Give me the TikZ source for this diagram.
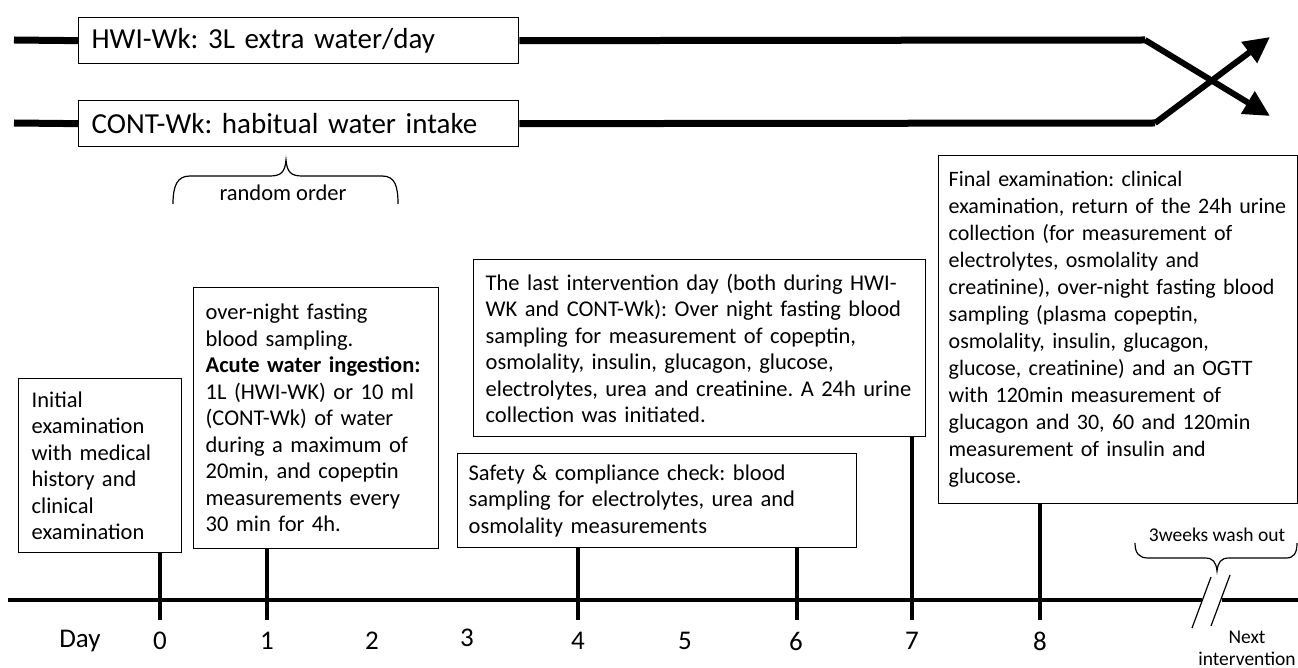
\documentclass[tikz,border=0pt]{standalone}
\usepackage{fontspec}
\setmainfont{Carlito}
\usetikzlibrary{arrows.meta}
\newcommand{\bodyf}{\frenchspacing\fontsize{22.5}{26.5}\selectfont}
\newcommand{\finalf}{\frenchspacing\fontsize{22}{27}\selectfont}
\newcommand{\topf}{\frenchspacing\fontsize{29}{34}\selectfont}
\newcommand{\dayf}{\fontsize{27}{30}\selectfont}
\newcommand{\smallf}{\fontsize{19.5}{22}\selectfont}
\tikzset{
  box/.style={draw, line width=1.3pt, align=left, anchor=north west, inner xsep=12pt, inner ysep=0pt, font=\bodyf},
  topbox/.style={draw, line width=1.3pt, align=left, anchor=north west, inner xsep=13pt, inner ysep=0pt, font=\topf},
  thick line/.style={line width=7pt},
  axis line/.style={line width=3.8pt},
  tick line/.style={line width=3.8pt},
  thin line/.style={line width=1.2pt},
  daylabel/.style={font=\dayf, inner sep=0pt},
  cross arrow/.style={line width=6pt, -{Triangle[length=26pt,width=25pt]}},
}
\begin{document}
\frenchspacing
\begin{tikzpicture}[x=1pt,y=-1pt]
\useasboundingbox (0,0) rectangle (1298,668);

% top group boxes
\node[topbox, text width=414pt, minimum height=46pt] (hwi) at (78,17) {HWI-Wk: 3L extra water/day};
\node[topbox, text width=414pt, minimum height=46pt] (cont) at (78,100) {CONT-Wk: habitual water intake};

\coordinate (hwiL) at (14,40);
\coordinate (contL) at (14,123);
\coordinate (hwiBend) at (1145,40);
\coordinate (contBend) at (1155,123);
\coordinate (hwiEnd) at (1270,116);
\coordinate (contEnd) at (1270,37);

\draw[thick line] (hwiL) -- (hwi.west);
\draw[thick line] (contL) -- (cont.west);
\draw[thick line] (hwi.east) -- (hwiBend);
\draw[thick line] (cont.east) -- (contBend);
\draw[cross arrow] (hwiBend) -- (hwiEnd);
\draw[cross arrow] (contBend) -- (contEnd);

% random order brace
\draw[thin line] (173,204) .. controls (173,186) and (177,176) .. (190,176) -- (270,176)
  .. controls (281,176) and (285,172) .. (286,160)
  .. controls (287,172) and (291,176) .. (302,176) -- (382,176)
  .. controls (395,176) and (398,186) .. (398,204);
\node[font=\bodyf, inner sep=0pt] (rand) at (283,193) {random order};

% event boxes
\node[box, inner xsep=13pt, text width=137pt, minimum height=174pt] (b0) at (18,378)
  {Initial\\examination\\with medical\\history and\\clinical\\examination};
\node[box, text width=221pt, minimum height=261pt] (b1) at (193,287)
  {over-night fasting\\blood sampling.\\\textbf{Acute water ingestion:}\\1L (HWI-WK) or 10 ml\\(CONT-Wk) of water\\during a maximum of\\20min, and copeptin\\measurements every\\30 min for 4h.};
\node[box, inner xsep=12pt, text width=428pt, minimum height=177pt] (b7) at (473,259)
  {The last intervention day (both during HWI-\\WK and CONT-Wk): Over night fasting blood\\sampling for measurement of copeptin,\\osmolality, insulin, glucagon, glucose,\\electrolytes, urea and creatinine. A 24h urine\\collection was initiated.};
\node[box, inner xsep=11pt, text width=377pt, minimum height=94pt] (b4) at (457,453)
  {Safety \& compliance check: blood\\sampling for electrolytes, urea and\\osmolality measurements};
\node[box, font=\finalf, inner xsep=10pt, text width=339pt, minimum height=348pt] (b8) at (938,155)
  {Final examination: clinical\\\mbox{examination, return of the 24h urine}\\collection (for measurement of\\electrolytes, osmolality and\\creatinine), over-night fasting blood\\sampling (plasma copeptin,\\osmolality, insulin, glucagon,\\glucose, creatinine) and an OGTT\\with 120min measurement of\\glucagon and 30, 60 and 120min\\measurement of insulin and\\glucose.};

% timeline
\coordinate (tlL) at (8,600);
\coordinate (brkL) at (1202,600);
\coordinate (brkR) at (1222,600);
\coordinate (tlR) at (1298,600);
\draw[axis line] (tlL) -- (brkL);
\draw[axis line] (brkR) -- (tlR);
\draw[thin line] (1211,577) -- (1192,628);
\draw[thin line] (1230,575) -- (1211,626);

% ticks
\coordinate (t0) at (160,620);
\coordinate (t1) at (267,620);
\coordinate (t4) at (578,620);
\coordinate (t6) at (797,620);
\coordinate (t7) at (912,620);
\coordinate (t8) at (1040,620);
\draw[tick line] (b0.south -| t0) -- (t0);
\draw[tick line] (b1.south -| t1) -- (t1);
\draw[tick line] (b4.south -| t4) -- (t4);
\draw[tick line] (b4.south -| t6) -- (t6);
\draw[tick line] (b7.south -| t7) -- (t7);
\draw[tick line] (b8.south -| t8) -- (t8);

% day labels
\node[daylabel] (lday) at (80,641) {Day};
\node[daylabel] (d0) at (160,641) {0};
\node[daylabel] (d1) at (267,641) {1};
\node[daylabel] (d2) at (372,641) {2};
\node[daylabel] (d3) at (467,638) {3};
\node[daylabel] (d4) at (578,641) {4};
\node[daylabel] (d5) at (685,641) {5};
\node[daylabel] (d6) at (796,641) {6};
\node[daylabel] (d7) at (912,641) {7};
\node[daylabel] (d8) at (1040,641) {8};

% wash-out brace
\draw[thin line] (1135,543) .. controls (1135,553) and (1139,558) .. (1148,558) -- (1205,558)
  .. controls (1213,558) and (1216,562) .. (1217,571)
  .. controls (1218,562) and (1221,558) .. (1229,558) -- (1286,558)
  .. controls (1294,558) and (1297,553) .. (1297,543);
\node[font=\smallf, inner sep=0pt] (wash) at (1217,535) {3weeks wash out};
\node[font=\smallf, inner sep=0pt, align=center] (next) at (1247,648) {Next\\intervention};
\end{tikzpicture}
\end{document}
